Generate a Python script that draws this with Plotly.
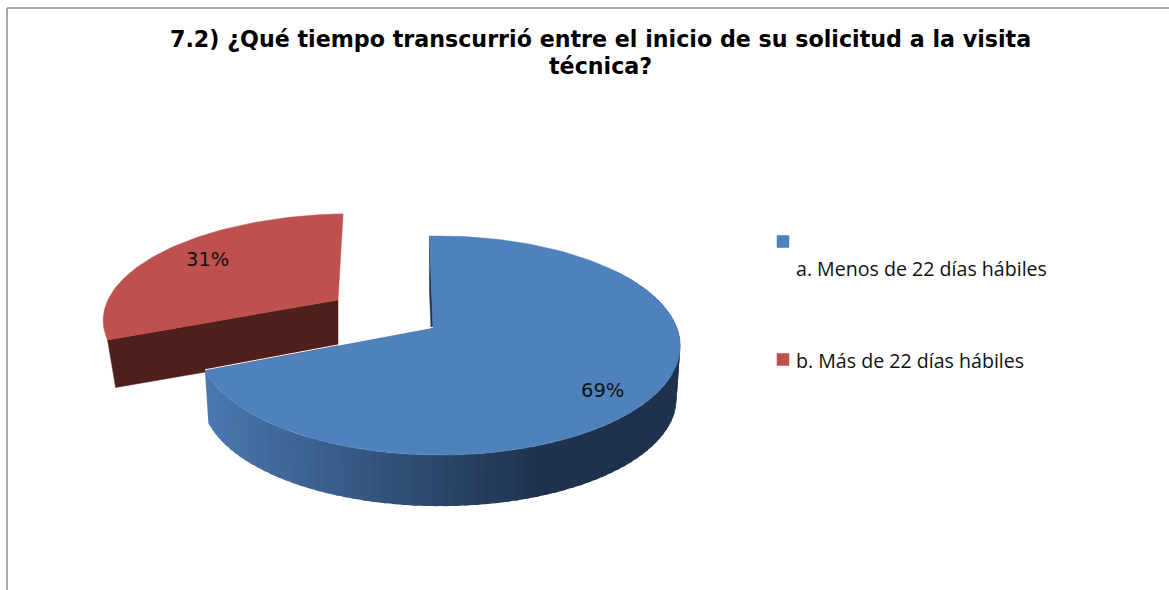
import math
import plotly.graph_objects as go

# ---- data ----
title_lines = ["7.2) ¿Qué tiempo transcurrió entre el inicio de su solicitud a la visita", "técnica?"]
categories = ["a. Menos de 22 días hábiles", "b. Más de 22 días hábiles"]
values = [69, 31]
top_colors = ["#4F81BD", "#BE504D"]
wall_color = "#4F1F1C"
side_light = (74, 120, 176)
side_dark = (30, 50, 77)

START = -1.0
total = sum(values)
sweep0 = 360 * values[0] / total
K, M = 0.16, 0.0257


def project(theta, geo, bottom=False):
    t = math.radians(theta)
    u, v = math.sin(t), -math.cos(t)
    den = 1 - K * v - M * u
    s = geo["s"] if bottom else 1.0
    dz = geo["dz"] if bottom else 0.0
    return (geo["cx"] + s * (geo["a"] * u + geo["c"] * v) / den,
            geo["cy"] + dz + s * geo["b"] * v / den)


def apex(geo, bottom=False):
    return (geo["cx"], geo["cy"] + (geo["dz"] if bottom else 0.0))


blue = dict(cx=433, cy=328, a=237.7, b=106.7, c=0.0, s=0.985, dz=53)
red = dict(cx=338, cy=300, a=236, b=100, c=-10.0, s=0.965, dz=49)

fig = go.Figure()


def poly(points, color, width=0.0):
    xs = [p[0] for p in points] + [points[0][0]]
    ys = [p[1] for p in points] + [points[0][1]]
    fig.add_trace(go.Scatter(x=xs, y=ys, mode="lines", fill="toself", fillcolor=color,
                             line=dict(color=color, width=width), hoverinfo="skip", showlegend=False))


def arc(a0, a1, geo, n, bottom=False):
    return [project(a0 + (a1 - a0) * i / n, geo, bottom) for i in range(n + 1)]


# red slice: front wall then top face
end0 = START + sweep0
end1 = START + 360
poly([apex(red), project(end0, red), project(end0, red, True), apex(red, True)], wall_color, 0.5)
poly([apex(red)] + arc(end0, end1, red, 80), top_colors[1], 0.5)

# blue slice: inner wall, shaded rim, top face
poly([apex(blue), project(START, blue), project(START, blue, True), apex(blue, True)], "#1F344F", 0.5)
a_hi, a_lo = end0, 55.0
nseg = 90
for i in range(nseg):
    a0 = a_hi + (a_lo - a_hi) * i / nseg
    a1 = a_hi + (a_lo - a_hi) * (i + 1) / nseg
    x_mid = project((a0 + a1) / 2, blue)[0]
    f = min(1.0, max(0.0, (x_mid - 207) / (545 - 207)))
    col = "rgb(%d,%d,%d)" % tuple(round(side_light[j] + (side_dark[j] - side_light[j]) * f) for j in range(3))
    back = a0 + 1.0 if i else a0
    poly(arc(back, a1, blue, 3) + arc(a1, back, blue, 3, True), col, 0)
poly([apex(blue)] + arc(START, end0, blue, 160), top_colors[0], 0.5)
e = project(end0, blue)
fig.add_trace(go.Scatter(x=[e[0], blue["cx"]], y=[e[1] - 0.8, blue["cy"] - 0.8], mode="lines",
                         line=dict(color="white", width=1), hoverinfo="skip", showlegend=False))

# legend markers
fig.add_trace(go.Scatter(x=[783, 783], y=[241.5, 359.5], mode="markers",
                         marker=dict(symbol="square", size=12.5, color=top_colors, line=dict(width=0)),
                         hoverinfo="skip", showlegend=False))

TXT = "#111111"
ann = []
for line, y in zip(title_lines, [39, 66]):
    ann.append(dict(x=600, y=y, text="<b>%s</b>" % line, showarrow=False, xanchor="center", yanchor="middle",
                    font=dict(family="DejaVu Sans", size=22.2, color="#000000")))
for cat, y in zip(categories, [268, 360]):
    ann.append(dict(x=796, y=y, text=cat, showarrow=False, xanchor="left", yanchor="middle",
                    xshift=-2, font=dict(family="Open Sans", size=19.6, color=TXT)))
for v, x, y in zip(values, [602, 207], [390, 259]):
    ann.append(dict(x=x, y=y, text="%d%%" % v, showarrow=False, xanchor="center", yanchor="middle",
                    font=dict(family="DejaVu Sans", size=19.5, color=TXT)))

fig.update_layout(
    width=1169, height=590, margin=dict(l=0, r=0, t=0, b=0), autosize=False,
    paper_bgcolor="white", plot_bgcolor="white", showlegend=False, annotations=ann,
    xaxis=dict(range=[0, 1169], visible=False, fixedrange=True),
    yaxis=dict(range=[590, 0], visible=False, fixedrange=True),
    shapes=[
        dict(type="line", x0=7, x1=1169, y0=8, y1=8, line=dict(color="#8C8C8C", width=1.5)),
        dict(type="line", x0=7, x1=7, y0=8, y1=590, line=dict(color="#8C8C8C", width=1.5)),
    ],
)
fig.write_html("out.html", config={"displayModeBar": False},
               post_script="document.body.style.margin='0';document.body.style.overflow='hidden';")
